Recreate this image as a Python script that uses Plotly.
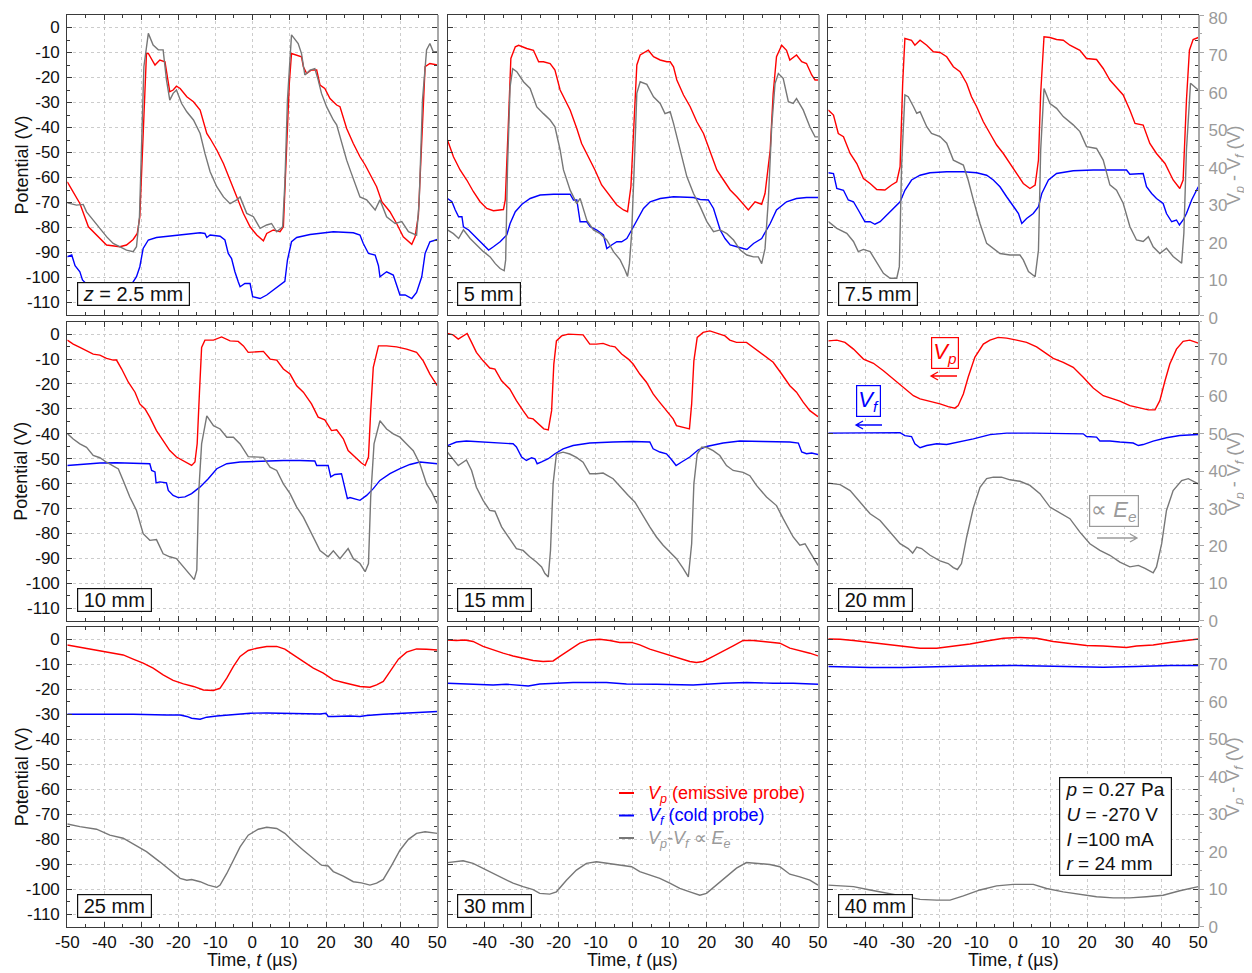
import plotly.graph_objects as go

# ---------------- data (t in µs, value) ----------------
# Vp = plasma potential (left axis, V); Vf = floating potential (left axis, V);
# dV = Vp - Vf (right axis, V)

vp_z2p5 = [(-50,-61.7),(-46.6,-70.4),(-44.3,-79.7),(-41.2,-84.4),(-39.4,-87),(-35.8,-87.7),(-34,-87),(-32.2,-84.8),(-31.1,-82.4),(-30.4,-75.7),(-29.5,-42.4),(-28.6,-10.4),(-28.1,-10.4),(-26.3,-15),(-25,-13),(-23.6,-13.7),(-22.3,-25.7),(-21.4,-25),(-20.5,-23.5),(-19.5,-24.4),(-17.7,-27.7),(-15.9,-29.7),(-14.1,-33),(-12.3,-42.4),(-11.4,-44.4),(-9.6,-49),(-7.8,-54.4),(-6,-61),(-4.2,-67.7),(-2.4,-74.4),(-0.6,-79.7),(1.2,-83),(3,-85.3),(3.9,-82.4),(5.7,-81),(7.5,-81.7),(8.4,-79.7),(9.1,-55.7),(10,-22.4),(10.6,-10.4),(12,-11),(13.3,-11.7),(13.8,-15.7),(14.7,-18.4),(16,-17),(17.4,-17),(18.3,-23),(19.6,-24.4),(21,-28.4),(22.8,-31),(23.7,-31.7),(25.5,-40.4),(27.3,-46.4),(29.1,-51.7),(30.5,-55),(31.8,-58.4),(33.6,-63.7),(35,-69.7),(37.2,-73.7),(39,-78.4),(40.8,-83.7),(43.1,-86.7),(44,-83.7),(44.9,-75),(45.8,-42.4),(46.7,-15.7),(48,-14.4),(50,-15)]
vf_z2p5 = [(-50,-91.7),(-48.8,-91),(-47.9,-95.3),(-46.6,-97.7),(-45.9,-101),(-43.9,-104),(-41.2,-108),(-37.6,-110),(-34.9,-109),(-33.1,-105),(-32.2,-101.7),(-31.3,-99.7),(-30.4,-95.7),(-29.5,-88.4),(-28.1,-85),(-25.9,-84),(-23.2,-83.5),(-18.6,-82.8),(-14.1,-82.1),(-12.8,-82.4),(-12.3,-84),(-11.4,-83),(-8.7,-83.5),(-7.4,-85),(-6.5,-90.4),(-5.6,-92.4),(-4.7,-97.7),(-3.8,-101.7),(-3.3,-103.7),(-2,-102.4),(-0.6,-102.4),(0.1,-107.7),(2.1,-108.4),(3.9,-107),(5.7,-105),(7.5,-103),(8.8,-101.5),(9.5,-93),(10.6,-85.7),(12,-84),(15.6,-82.8),(21.9,-81.7),(27.3,-82.1),(29.1,-83),(30,-86.4),(31.4,-90.4),(33.2,-91),(34.1,-95.3),(34.5,-99.7),(36.3,-97.7),(38.1,-99),(39,-103),(39.9,-107),(41.3,-107),(43.1,-108.4),(44.4,-106),(45.8,-99.7),(46.7,-90.4),(48,-85.7),(50,-84.8)]
dv_z2p5 = [(-50,29.9),(-47.5,29.3),(-45.7,29.5),(-44.8,27.5),(-43,25.3),(-41.2,23.1),(-39.4,20.9),(-37.6,19.1),(-35.8,18.2),(-34,17.3),(-32.2,16.9),(-31.3,18.2),(-30.5,26.2),(-29.9,48.4),(-29.3,66.2),(-28.1,75.1),(-26.8,72),(-25.4,70.7),(-24.1,70.7),(-23.2,62.7),(-22.3,57.3),(-21.4,59.1),(-20.5,60),(-19.1,56.4),(-17.7,54.2),(-15.9,52),(-14.1,48.4),(-12.8,43.1),(-11.4,38.2),(-9.6,34.2),(-7.8,31.5),(-6,29.7),(-4.2,30.7),(-3.3,31.5),(-1.5,27.1),(0.3,26.2),(2.1,23.1),(3.9,24),(5.2,24.4),(6.6,22.2),(8.2,23.5),(8.8,35.1),(9.5,57.3),(10.6,74.7),(12.4,72.4),(13.3,69.7),(14.2,64),(15.6,65.3),(16.9,65.7),(17.8,62.7),(18.7,59.1),(20.1,55.5),(21.9,52),(22.8,50.7),(23.7,47.5),(25.5,41.3),(26.8,37.7),(29.1,31.5),(30.9,30.7),(33.2,28),(34.5,30.7),(36.3,26.2),(38.6,24.4),(40.4,24.9),(42.2,22.2),(44.4,21.3),(45.1,30.2),(46,57.3),(47.1,70.7),(48,72.4),(48.9,70.2),(50,70.2)]

vp_z5 = [(-50,-45),(-48.4,-51.7),(-46.6,-57),(-44.8,-61),(-43,-65.7),(-41.2,-69.7),(-39.4,-72.4),(-37.6,-73.3),(-34.9,-72.8),(-34.4,-69),(-33.5,-35.7),(-32.9,-12.4),(-31.7,-7.7),(-30.8,-7.1),(-28.6,-8.4),(-26.8,-9.1),(-25.4,-13.7),(-24.1,-13.7),(-22.3,-14.4),(-21,-17),(-19.6,-25),(-18.3,-29),(-16.9,-33),(-15.1,-40.4),(-13.8,-46.4),(-12,-51.7),(-10.2,-57),(-8.4,-63),(-6.1,-67.7),(-4.3,-71),(-2.5,-73),(-1.4,-73.7),(-0.5,-63.7),(0.2,-39.7),(1.1,-15),(2,-11),(4.2,-9.1),(5.6,-11.7),(7.4,-13),(9.2,-13.7),(10.1,-13.7),(11,-15.7),(11.9,-21),(13.7,-27),(15.5,-31.7),(17.3,-37.7),(19.1,-42.4),(20.9,-49.7),(22.7,-57),(24.5,-61),(26.3,-65),(28.1,-67.7),(29.9,-71),(31.2,-73),(33,-69.7),(34.8,-70.7),(35.7,-66.4),(37.1,-49),(37.9,-26.4),(38.8,-11.7),(40.2,-7.1),(41.5,-9.1),(42.4,-13),(44.2,-11),(45.6,-13.7),(46.9,-14.4),(48.3,-19),(49.2,-21),(50,-21)]
vf_z5 = [(-50,-68.4),(-48.8,-69.7),(-47.9,-73),(-47,-75.7),(-46.1,-75.7),(-45.7,-79.7),(-44.3,-81),(-43,-83),(-41.2,-85.7),(-39.8,-87.7),(-38.9,-89),(-37.6,-87.7),(-35.8,-85.7),(-34,-83),(-33.1,-78.4),(-31.7,-73.7),(-29.9,-70.7),(-27.7,-68.4),(-25,-67),(-21.4,-66.7),(-16.9,-66.7),(-16,-69),(-15.1,-69),(-14.2,-77.7),(-12.4,-77.7),(-11.5,-79.7),(-9.7,-81),(-7.9,-83),(-7,-88.4),(-5.7,-87),(-4.3,-85.7),(-3,-85.7),(-1.6,-84.4),(-0.3,-81),(1.1,-77),(2.9,-72.4),(4.7,-69.7),(7.4,-68.4),(11,-67.7),(16.4,-68),(18.2,-68.8),(20.4,-69),(21.8,-72.4),(22.7,-77),(23.6,-81),(24.9,-84.4),(26.3,-87),(28.1,-87.7),(30.8,-88.8),(32.6,-86.4),(34.8,-84.4),(37.1,-78.4),(38.8,-73),(41.5,-69.7),(44.2,-68.4),(46.9,-68),(50,-68)]
dv_z5 = [(-50,22.7),(-48.4,21.7),(-47,20.4),(-45.7,22.7),(-43.9,20.4),(-42.1,18.7),(-40.3,16.9),(-38.5,15.5),(-37.1,13.7),(-35.8,12.4),(-34.7,11.8),(-34.3,14.7),(-33.8,39.5),(-33.1,60.9),(-32.4,65.7),(-31.3,64.9),(-29.5,62.2),(-27.7,60.4),(-25.9,55.5),(-24.1,53.7),(-22.3,52),(-21,50.2),(-19.6,44),(-18.7,38.7),(-16.9,33.3),(-15.1,29.7),(-14.2,31.1),(-12.4,25.3),(-10.6,22.7),(-8.8,21.7),(-7,20),(-5.2,16.9),(-3.4,14.7),(-2.1,12),(-1.4,10.3),(-0.9,13.7),(-0.3,21.7),(0.4,39.5),(1.1,59.1),(2,62.2),(3.8,61.5),(5.6,58.2),(7.4,56.4),(8.7,53.7),(10.1,54.2),(11,51.1),(12.8,44),(14.6,36.9),(16.4,32.4),(18.2,28.9),(20,24.9),(21.8,22.2),(23.6,22.7),(25.4,21.7),(27.2,20),(29,17.3),(30.8,16),(32.6,15.5),(33.9,15.5),(34.8,13.7),(35.7,17.7),(36.6,30.7),(37.5,50.2),(38.4,61.7),(39.3,64.4),(40.6,63.1),(42,56.9),(43.3,56.4),(44.2,57.7),(46,54.7),(47.8,50.2),(49.2,47.5),(50,47.5)]

vp_z7p5 = [(-50,-33),(-48.6,-35),(-47.3,-42.4),(-45.9,-43.7),(-44.1,-50.4),(-42.3,-54.4),(-40.5,-60.4),(-38.7,-62.4),(-36.9,-64.8),(-34.7,-65),(-32.9,-63),(-31.5,-61.7),(-30.6,-55.7),(-29.9,-22.4),(-29.3,-4.4),(-27.5,-5.1),(-26.6,-7.1),(-25.2,-5.1),(-23.4,-7.1),(-21.6,-9.7),(-19.8,-10),(-18,-11.7),(-16.2,-15.7),(-14.4,-17.7),(-12.6,-22.4),(-11.3,-27.7),(-9.9,-31.7),(-8.1,-37.7),(-6.3,-42.4),(-4.5,-47),(-2.7,-50.4),(-0.9,-54.4),(1.4,-59.7),(2.7,-62.4),(4.5,-64.4),(5.9,-63),(6.8,-53),(7.4,-26.4),(8.3,-3.7),(9.9,-4),(11.7,-4.8),(13.5,-5.1),(15.3,-7.1),(18,-9.1),(19.8,-12.4),(22.5,-12.8),(24.3,-16.4),(26.1,-21),(27.9,-24),(29.7,-27),(31.5,-33),(32.9,-38.4),(35.1,-39),(36.9,-46.4),(38.7,-50.4),(41,-54.4),(43.2,-61),(45,-64.4),(45.9,-61),(46.8,-29),(47.6,-9.1),(48.6,-4.8),(50,-4)]
vf_z7p5 = [(-50,-58.1),(-48.6,-58.4),(-47.7,-64.4),(-45.9,-65.1),(-44.6,-69),(-43.2,-69.7),(-41.9,-73),(-40.1,-77.7),(-38.7,-77.7),(-37.4,-78.7),(-36,-77.7),(-34.2,-75),(-32.4,-72.4),(-30.6,-69.7),(-29.3,-65.1),(-27.5,-61),(-25.2,-59.1),(-22.5,-58.1),(-18,-57.7),(-13.5,-57.7),(-9.9,-58.1),(-7.2,-59.1),(-5.4,-61),(-3.6,-63.7),(-1.8,-67.7),(0,-71.7),(1.4,-74.4),(2.3,-78.4),(3.6,-76.4),(5.4,-74.4),(6.8,-71.7),(7.7,-66.4),(9.5,-61),(11.7,-58.4),(16.2,-57.3),(21.6,-57),(27,-57),(30.6,-57),(31.5,-58.7),(35.1,-58.4),(36,-63.7),(37.4,-66.4),(38.7,-68.4),(40.5,-70.4),(41.4,-74.4),(42.8,-77.7),(44.1,-77),(44.9,-79),(45.9,-77),(46.8,-74.4),(48.2,-69),(50,-63.7)]
dv_z7p5 = [(-50,24.9),(-47.7,23.1),(-45,21.8),(-43.2,19.6),(-41.9,16.9),(-40.5,17.5),(-38.7,16.9),(-36.9,13.8),(-35.1,11.1),(-33.3,9.8),(-31.5,9.8),(-30.8,12.9),(-30.2,39.6),(-29.3,58.7),(-28.4,58.2),(-27,55.6),(-26.1,53.8),(-25.2,54.2),(-23.4,50.2),(-22.1,48.4),(-19.8,47.6),(-18,45.8),(-16.2,41.3),(-13.5,40),(-12.2,36),(-10.8,30.7),(-9,24.4),(-7.2,19.1),(-5.4,17.8),(-3.6,16.4),(-0.9,16),(1.8,16),(2.7,14.7),(4.1,11.6),(5.9,10.2),(6.8,17.3),(7.4,44),(8.3,60.4),(9.9,56.4),(11.7,55.1),(13.5,52.9),(16.2,50.7),(18,48.9),(19.8,44.9),(22.5,44.4),(24.3,41.3),(26.1,34.7),(27.9,33.3),(29.7,29.8),(31.5,23.6),(33.3,20),(35.1,19.6),(36.5,20.9),(37.8,18.2),(39.6,16.4),(41.4,17.8),(43.2,15.6),(45.5,13.8),(46.1,21.8),(46.8,44),(47.9,61.8),(49.1,60.9),(50,60)]

vp_z10 = [(-50,-2.4),(-48.4,-4),(-46.6,-5.3),(-44.8,-6.7),(-43,-8),(-41.2,-8.4),(-39.4,-9.7),(-37.6,-10.4),(-36.7,-10.4),(-35.3,-14),(-33.5,-19.3),(-31.7,-23.3),(-30.4,-28),(-29,-30),(-27.7,-33.3),(-25.9,-38.7),(-24.1,-42.7),(-22.3,-46.7),(-20.5,-49.3),(-18.2,-51.3),(-16.4,-52.7),(-15.5,-51.3),(-14.9,-44),(-14.3,-24),(-13.7,-5.3),(-12.8,-2.4),(-10.5,-2.4),(-8.3,-1.1),(-6,-2.7),(-3.8,-2.9),(-2.4,-4.7),(-1.1,-7.3),(3,-6.9),(4.8,-10),(6.6,-10.4),(8.4,-14),(10.2,-16),(12,-20.7),(13.8,-23.3),(16,-28),(17.8,-33.3),(19.6,-34.4),(21.4,-38.7),(22.8,-38.4),(24.6,-42),(25.9,-46.7),(27.7,-49.3),(29.5,-51.7),(30.5,-52.7),(31.4,-49.3),(32,-30.7),(32.7,-13.3),(34.1,-4.7),(36.3,-4.7),(39,-5.1),(41.7,-6),(44.4,-7.3),(46.2,-10.7),(48,-16),(50,-20.7)]
vf_z10 = [(-50,-52.7),(-45.7,-52.3),(-41.2,-51.7),(-36.7,-51.6),(-32.2,-51.7),(-28.6,-52),(-27.7,-52),(-27.2,-54.7),(-26.3,-55.3),(-26,-59.7),(-25,-59.3),(-23.2,-59.7),(-22.7,-62.7),(-21.4,-64.7),(-20,-65.6),(-18.2,-65.3),(-16.4,-64),(-14.1,-61.3),(-11.9,-58),(-9.6,-54),(-6.9,-52),(-3.3,-51.3),(2.1,-50.9),(8.4,-50.7),(12.9,-50.7),(16.9,-50.9),(17.4,-52.7),(19.6,-52.7),(20.5,-52.7),(21.2,-57.3),(22.3,-56.3),(24.1,-56),(25,-61.3),(25.7,-66),(26.4,-65.6),(27.7,-66),(29.1,-66.7),(30.9,-64.7),(32.7,-62),(34.5,-58.7),(37.2,-56),(39.9,-54),(42.6,-52.3),(45.3,-51.3),(48,-51.7),(50,-52)]
dv_z10 = [(-50,50.1),(-48.4,48.6),(-46.6,47.3),(-44.8,46.4),(-43,44.2),(-41.2,43.6),(-39.4,42.4),(-37.6,41.5),(-36.2,40.6),(-34.9,37.5),(-33.1,33.1),(-31.3,29.5),(-29.5,23.3),(-27.7,21.5),(-25.9,21.7),(-24.1,17.9),(-22.3,17.1),(-20.5,16.6),(-18.6,14.4),(-16.8,12.2),(-15.7,11),(-15,13.5),(-14.5,34),(-13.7,47.3),(-12.3,54.8),(-10.5,52.2),(-8.7,51.3),(-6.9,49.1),(-5.1,49.1),(-3.3,47.3),(-1.1,43.9),(3,43.7),(4.8,41.1),(6.6,40.2),(8.4,36.6),(10.2,34),(12,30.4),(13.8,27.7),(16,23.3),(18.3,18.8),(20.5,17.1),(21.9,18.7),(23.7,16.6),(25.9,19.3),(27.3,16.6),(29.1,15.3),(30.5,13.1),(31.4,15.3),(32,33.1),(32.9,47.3),(34.5,53.5),(36.3,51.3),(38.1,50),(39.9,49.1),(41.7,47.3),(43.5,45.5),(45.3,42),(47.1,36.6),(48.5,34.4),(50,31.3)]

vp_z15 = [(-50,0.3),(-48.5,-0.3),(-47.1,-2),(-45.8,-0.7),(-44.7,0.3),(-43.5,-3.3),(-42.2,-7.3),(-40.4,-10.7),(-38.6,-13.6),(-37.2,-14),(-35.4,-18.7),(-33.2,-22),(-31.4,-26.7),(-29.6,-30.7),(-28.2,-33.6),(-26.9,-34),(-25.5,-36),(-24,-38),(-22.8,-38.4),(-21.9,-30.7),(-21.3,-12),(-20.6,-2.7),(-19.2,-0.7),(-17.4,0),(-13.4,-0.3),(-11.6,-4),(-9.8,-4),(-8,-3.7),(-6.2,-4.7),(-4.8,-5.1),(-3,-8),(-1.2,-10),(0.1,-12),(1.9,-16),(3.7,-19.3),(5.5,-24),(6.9,-26.7),(9.1,-30.7),(10.9,-34),(11.8,-36.7),(13.6,-37.3),(15.3,-38),(15.9,-28),(16.5,-10.7),(17.4,-1.3),(19,0.7),(20.8,1.3),(22.6,0.3),(24.9,-0.7),(26.2,-2.4),(28,-3.3),(30.7,-3.3),(32.5,-5.3),(35.2,-8),(37.9,-11.3),(40.2,-16),(42.4,-20.7),(44.2,-23.3),(46,-27.3),(47.8,-30.7),(50,-33.1)]
vf_z15 = [(-50,-44.7),(-47.6,-43.3),(-44.9,-42.9),(-40.4,-43.3),(-35.9,-43.7),(-32.3,-44),(-31.4,-45.3),(-30,-49.3),(-28.7,-50.7),(-27.3,-49.6),(-26.4,-50),(-25.8,-52),(-24.6,-51.3),(-22.8,-50),(-21,-48),(-18.8,-46),(-16.1,-44.7),(-11.6,-43.7),(-5.3,-43.3),(0.1,-43.1),(4.6,-43.3),(5.5,-46),(7.3,-47.3),(9.1,-48),(10.5,-50.4),(11.7,-52.7),(13.2,-51.3),(15.4,-49.3),(17.7,-46.4),(19.9,-45.1),(24.4,-43.7),(28.9,-42.9),(35.2,-43.1),(42.4,-43.3),(44.7,-43.7),(45.6,-47.3),(46.9,-48),(48.3,-47.7),(50,-48.3)]
dv_z15 = [(-50,45.1),(-48.5,43.3),(-47.1,41.5),(-44.9,43),(-43.5,40.2),(-42.2,35.7),(-40.4,32.2),(-38.6,29.5),(-37.2,29.3),(-35.4,25.1),(-33.2,22),(-31.4,19.3),(-29.6,18.8),(-27.8,17.1),(-26,15.7),(-24.6,14.4),(-23.7,12.6),(-22.8,11.7),(-22.2,18.8),(-21.5,36.6),(-20.6,44.6),(-18.8,45.1),(-17,44.6),(-15.2,43.7),(-13.4,42.4),(-11.6,39.3),(-9.8,39.3),(-8,39.5),(-5.3,38),(-3,35.3),(-1.2,33.5),(0.6,31.7),(2.4,28.6),(4.6,25.1),(6.4,22.4),(8.2,20.2),(10,18.4),(11.8,16.6),(13.6,14),(15,11.7),(15.9,20.6),(16.5,36.6),(17.4,44.6),(18.6,46.4),(19.9,46.4),(21.7,45.5),(23.5,44.2),(25.3,41.5),(27.1,40.2),(29.8,39.7),(31.6,38.8),(33.4,36.2),(36.1,33.1),(38.8,30.8),(40.6,27.3),(43.3,22.4),(45.1,20.2),(46.5,20.6),(47.8,18.4),(50,14.8)]

vp_z20 = [(-50,-2.7),(-47.7,-2.4),(-45.5,-3.3),(-43.2,-6),(-40.5,-10),(-37.8,-11.7),(-35.1,-14.7),(-32.4,-18),(-29.7,-21.1),(-27,-24.7),(-25.2,-26),(-22.5,-26.9),(-19.8,-28),(-17.6,-29.1),(-15.8,-29.7),(-14.9,-28.7),(-13.5,-24),(-12.2,-17.3),(-10.4,-9.3),(-8.1,-4),(-6.3,-2.4),(-4.1,-1.3),(-1.8,-1.6),(0.9,-2.4),(3.6,-3.3),(6.3,-5.1),(9,-8),(10.8,-9.7),(13.5,-11.3),(16.2,-13.3),(18.9,-17.3),(21.6,-21.6),(24.3,-24.7),(26.6,-25.7),(28.8,-26.9),(31.5,-28.7),(34.2,-29.6),(36.5,-30.4),(38.3,-30.4),(39.6,-26.7),(41,-18.7),(42.3,-12),(44.1,-6),(45.9,-2.9),(47.7,-2.4),(50,-3.6)]
vf_z20 = [(-50,-39.7),(-43.2,-39.6),(-34.2,-39.6),(-30.6,-39.5),(-29.3,-40.7),(-27.5,-41.1),(-26.6,-44),(-25.2,-45.6),(-23.4,-44.7),(-20.7,-44),(-18,-44.3),(-14.4,-43.3),(-10.8,-42),(-6.3,-40.3),(-1.8,-39.7),(5.4,-39.7),(10.8,-39.7),(18.9,-40),(19.8,-41.1),(22.5,-41.3),(23.4,-42.9),(26.1,-42.9),(28.8,-43.3),(32.4,-43.7),(33.8,-44.7),(35.1,-44.3),(37.8,-42.9),(41.4,-41.6),(45,-40.7),(50,-40.3)]
dv_z20 = [(-50,36.8),(-46.8,36.4),(-44.1,34.8),(-41.4,31.7),(-38.7,28.6),(-36,26.8),(-33.3,23.7),(-30.6,20.6),(-28.4,19.3),(-27.2,18.1),(-26.1,19.7),(-24.8,19.3),(-22.5,17.5),(-19.8,16),(-17.6,15.3),(-16.2,14.2),(-15.1,13.7),(-14,15.3),(-12.6,22.4),(-10.8,30.2),(-9,35.7),(-7.2,38),(-5.4,38.4),(-3.2,38.4),(-0.9,37.7),(1.8,37.3),(4.5,36.2),(7.2,34),(9.9,30.4),(12.6,28.8),(15.3,27.3),(18,23.7),(20.7,20.6),(23.4,18.8),(26.1,17.5),(28.8,15.7),(31.5,14.4),(33.8,14.8),(35.6,14),(37.8,12.8),(38.7,14.4),(40.1,20.6),(41.4,29.5),(43.2,34.8),(45.5,37.5),(47.3,38),(48.6,37.3),(50,36.6)]

vp_z25 = [(-50,-2.3),(-46.6,-3.2),(-43,-4),(-40.3,-4.9),(-37.6,-5.6),(-34.9,-6.3),(-32.2,-8),(-29.5,-9.6),(-26.8,-11.6),(-24.1,-14.3),(-21.4,-16.5),(-18.6,-17.9),(-15.9,-18.9),(-13.2,-20.3),(-10.5,-20.5),(-8.7,-19.6),(-6.9,-15.6),(-5.1,-10.9),(-3.3,-6.9),(-1.1,-4.5),(1.2,-3.6),(3.9,-2.9),(6.6,-2.9),(8.8,-4),(11.1,-6.3),(13.8,-8.9),(16.5,-11.6),(19.2,-13.6),(21.9,-16.3),(24.6,-17.3),(27.3,-18.3),(29.1,-18.9),(31.8,-19.2),(33.6,-18.3),(35.4,-16.9),(37.2,-12.9),(39.5,-8),(41.7,-5.2),(44.4,-3.9),(47.1,-4),(50,-4.3)]
vf_z25 = [(-50,-30),(-41.2,-29.9),(-32.2,-30),(-23.2,-30.3),(-19.5,-30.3),(-17.7,-30.9),(-16.4,-31.6),(-14.1,-32),(-12.3,-31.2),(-9.6,-30.7),(-5.1,-30),(-0.6,-29.6),(3.9,-29.5),(12.9,-29.6),(18.3,-29.9),(19.9,-29.6),(20.5,-30.9),(21.9,-30.9),(26.4,-30.7),(29.1,-30.9),(30.9,-30.5),(35.4,-30),(39.9,-29.6),(44.4,-29.3),(50,-28.9)]
dv_z25 = [(-50,27.4),(-46.6,26.7),(-42.1,26),(-38.5,24.4),(-34.9,23.6),(-32.2,22),(-28.6,20),(-25,17.3),(-22.3,15.1),(-19.5,12.9),(-17.7,12.4),(-16.4,12.6),(-14.1,12),(-11.9,11.1),(-9.6,10.5),(-8.7,11.1),(-6.9,14.2),(-5.1,17.8),(-3.3,21.3),(-1.1,24.4),(1.6,26),(3.9,26.5),(6.6,26.2),(8.8,24.9),(11.1,22.7),(13.8,20.4),(16.5,18.2),(18.7,16.4),(20.5,16.2),(21.9,14.7),(24.6,13.5),(27.3,12),(29.5,11.7),(31.8,11.1),(33.6,11.6),(35.4,12.6),(37.7,16.4),(39.9,20.4),(42.2,23.3),(44.4,24.9),(46.7,25.3),(50,24.9)]

vp_z30 = [(-50,-0.3),(-47.6,-0.5),(-45.3,-0.3),(-43.1,-0.9),(-40.4,-2.9),(-37.7,-4.3),(-35,-5.6),(-32.3,-6.7),(-29.6,-7.6),(-26.9,-8.5),(-24.2,-8.9),(-21.5,-8.7),(-19.7,-6.9),(-17,-4.3),(-14.3,-1.6),(-11.6,-0.3),(-8.9,0),(-6.2,-0.5),(-3.5,-1.3),(-0.3,-1.3),(1.9,-2.3),(4.6,-4),(7.3,-5.3),(10,-6.3),(12.7,-7.6),(15.4,-8.9),(17.2,-9.3),(19,-8.9),(21.7,-6.9),(24.4,-4.9),(27.1,-2.7),(29.8,-0.5),(32.5,-0.5),(35.2,-0.9),(37.9,-1.3),(39.7,-1.6),(42.4,-3.6),(45.1,-4.5),(47.8,-5.6),(50,-6.7)]
vf_z30 = [(-50,-17.6),(-43.1,-17.9),(-37.7,-18.3),(-34.1,-18),(-28.2,-18.7),(-25.1,-17.9),(-16.1,-17.3),(-7.1,-17.3),(-1.7,-17.9),(6.4,-18),(16.3,-18.3),(24.4,-17.6),(30.7,-17.3),(37.9,-17.6),(43.3,-17.6),(50,-18)]
dv_z30 = [(-50,17.1),(-45.8,17.6),(-43.1,16.9),(-40.4,15.6),(-37.7,14.2),(-35,12.9),(-32.3,11.6),(-29.6,10.7),(-26.9,9.9),(-25.1,8.9),(-22.4,8.7),(-20.6,9.3),(-17.9,12.4),(-15.2,15.1),(-12.5,16.9),(-9.8,17.3),(-7.1,16.9),(-3.5,16.4),(-0.3,16),(1.9,14.7),(4.6,13.8),(7.3,12.9),(10,11.6),(12.7,10.2),(15.4,9.3),(18.1,8.4),(19.9,8.9),(22.6,11.1),(25.3,13.3),(28,15.6),(30.7,17.1),(33.4,16.9),(37,16.6),(39.7,16),(42.4,14),(45.1,13.3),(47.8,12.4),(50,11.1)]

vp_z40 = [(-50,0.1),(-46.8,0),(-43.2,-0.5),(-38.7,-1.3),(-34.2,-2.3),(-29.7,-2.9),(-25.2,-3.6),(-20.7,-3.6),(-16.2,-2.9),(-11.7,-1.9),(-7.2,-0.7),(-2.7,0.4),(1.8,0.7),(6.3,0.4),(10.8,-0.9),(15.3,-1.6),(19.8,-2.5),(24.3,-2.7),(28.8,-3.3),(30.6,-3.3),(33.3,-2.7),(37.8,-2.3),(42.3,-1.3),(46.8,-0.5),(50,0.1)]
vf_z40 = [(-50,-10.9),(-43.2,-11.3),(-38.7,-11.3),(-29.7,-11.3),(-20.7,-10.9),(-11.7,-10.7),(0,-10.5),(10.8,-10.9),(24.3,-11.2),(33.3,-10.9),(42.3,-10.5),(50,-10.5)]
dv_z40 = [(-50,11.1),(-43.2,10.7),(-38.7,9.8),(-34.2,8.9),(-29.7,8),(-25.2,7.3),(-20.7,7.1),(-17.1,7.1),(-13.5,8.2),(-9,9.8),(-4.5,10.9),(0,11.3),(5.4,11.3),(9,10.2),(13.5,9.3),(18,8.6),(22.5,8),(27,7.7),(31.5,7.7),(36,8),(40.5,8.4),(45,9.6),(50,10.7)]

panel_labels = ["<i>z</i> = 2.5 mm", "5 mm", "7.5 mm", "10 mm", "15 mm", "20 mm", "25 mm", "30 mm", "40 mm"]
series_vp = [vp_z2p5, vp_z5, vp_z7p5, vp_z10, vp_z15, vp_z20, vp_z25, vp_z30, vp_z40]
series_vf = [vf_z2p5, vf_z5, vf_z7p5, vf_z10, vf_z15, vf_z20, vf_z25, vf_z30, vf_z40]
series_dv = [dv_z2p5, dv_z5, dv_z7p5, dv_z10, dv_z15, dv_z20, dv_z25, dv_z30, dv_z40]

x_ticks_first = [-50, -40, -30, -20, -10, 0, 10, 20, 30, 40, 50]
x_ticks_other = [-40, -30, -20, -10, 0, 10, 20, 30, 40, 50]
left_ticks = [0, -10, -20, -30, -40, -50, -60, -70, -80, -90, -100, -110]
right_ticks_top = [0, 10, 20, 30, 40, 50, 60, 70, 80]
right_ticks_low = [0, 10, 20, 30, 40, 50, 60, 70]

# ---------------- styling ----------------
# the page body adds an 8 px margin, so the figure is 8 px smaller and all
# reference pixel positions are shifted by that offset
OFF = 8
W, H = 1252 - OFF, 973 - OFF
FONT = "Liberation Sans, Arial, sans-serif"
RED, BLUE, GRAY = "#ff0000", "#0000ff", "#777777"
GRAY_TXT = "#9a9a9a"
FRAME = "#3a3a3a"
GRID = "#cccccc"
NB = "\u00a0"
COLS = [(67.3, 437.3), (447.5, 818.0), (828.3, 1198.3)]
ROWS = [(15.0, 315.0), (321.7, 620.7), (626.7, 926.7)]

def px(x):
    return (x - OFF) / W

def py(y):
    return 1 - (y - OFF) / H

fig = go.Figure()
layout = dict(
    width=W, height=H, margin=dict(l=0, r=0, t=0, b=0, pad=0, autoexpand=False),
    paper_bgcolor="white", plot_bgcolor="white", showlegend=False,
    font=dict(family=FONT, size=17, color="#111111"),
)

def xs(p):
    return [a for a, b in p]

def ys(p):
    return [b for a, b in p]

annotations = []
shapes = []
for i in range(9):
    r, c = divmod(i, 3)
    xi, yl, yr = i + 1, 2 * i + 1, 2 * i + 2
    xn = "x" if xi == 1 else f"x{xi}"
    yln = "y" if yl == 1 else f"y{yl}"
    yrn = f"y{yr}"
    xk = "xaxis" if xi == 1 else f"xaxis{xi}"
    ylk = "yaxis" if yl == 1 else f"yaxis{yl}"
    yrk = f"yaxis{yr}"
    x0, x1 = COLS[c]
    top, bot = ROWS[r]
    xdom = [px(x0), px(x1)]
    ydom = [py(bot), py(top)]

    xt = x_ticks_first if c == 0 else x_ticks_other
    layout[xk] = dict(
        domain=xdom, anchor=yln, range=[-50, 50], tickmode="array",
        tickvals=xt, ticktext=[str(v) for v in xt], automargin=False,
        showticklabels=(r == 2), ticks="inside", ticklen=5, tickwidth=1, tickcolor=FRAME,
        showline=True, linecolor=FRAME, linewidth=1.2, mirror="ticks",
        showgrid=True, gridcolor=GRID, griddash="dot", gridwidth=1, zeroline=False,
        minor=dict(tickmode="linear", tick0=0, dtick=5, ticks="inside", ticklen=3, tickcolor=FRAME, showgrid=False),
        tickfont=dict(size=17, family=FONT, color="#111111"), ticklabelstandoff=0,
        ticklabeloverflow="allow",
    )

    layout[ylk] = dict(
        domain=ydom, anchor=xn, range=[-115, 5], tickmode="array", automargin=False,
        tickvals=left_ticks, ticktext=[str(v) for v in left_ticks],
        showticklabels=(c == 0), ticks="inside", ticklen=5, tickwidth=1, tickcolor=FRAME,
        showline=True, linecolor=FRAME, linewidth=1.2, mirror="ticks",
        showgrid=True, gridcolor=GRID, griddash="dot", gridwidth=1, zeroline=False,
        minor=dict(tickmode="linear", tick0=0, dtick=5, ticks="inside", ticklen=3, tickcolor=FRAME, showgrid=False),
        tickfont=dict(size=17, family=FONT, color="#111111"), ticklabelstandoff=3,
        ticklabeloverflow="allow",
    )

    ry = dict(
        domain=ydom, anchor=xn, overlaying=yln, side="right", range=[0, 80], automargin=False,
        showgrid=False, zeroline=False, showline=True, linecolor="#a8a8a8", linewidth=1.6,
    )
    if c == 2:
        rt = right_ticks_top if r == 0 else right_ticks_low
        ry.update(
            tickmode="array", tickvals=rt, ticktext=[str(v) for v in rt],
            ticks="outside", ticklen=4, tickcolor="#a8a8a8", showticklabels=True,
            minor=dict(tickmode="linear", tick0=0, dtick=5, ticks="outside", ticklen=2, tickcolor="#a8a8a8"),
            tickfont=dict(size=17, family=FONT, color=GRAY_TXT), ticklabelstandoff=1,
            ticklabeloverflow="allow", ticklabelshift=(3 if r == 0 else 0),
        )
    else:
        ry.update(showticklabels=False, ticks="")
    layout[yrk] = ry

    fig.add_trace(go.Scatter(x=xs(series_vf[i]), y=ys(series_vf[i]), xaxis=xn, yaxis=yln, mode="lines",
                             line=dict(color=BLUE, width=1.4), name="Vf", hoverinfo="skip"))
    fig.add_trace(go.Scatter(x=xs(series_vp[i]), y=ys(series_vp[i]), xaxis=xn, yaxis=yln, mode="lines",
                             line=dict(color=RED, width=1.4), name="Vp", hoverinfo="skip"))
    fig.add_trace(go.Scatter(x=xs(series_dv[i]), y=ys(series_dv[i]), xaxis=xn, yaxis=yrn, mode="lines",
                             line=dict(color=GRAY, width=1.4), name="Vp-Vf", hoverinfo="skip"))

    annotations.append(dict(
        text=NB + panel_labels[i] + NB, xref=f"{xn} domain", yref=f"{yln} domain",
        x=9.5 / 370, y=9 / 300, xanchor="left", yanchor="bottom", showarrow=False,
        font=dict(size=20, family=FONT, color="#111111"), bgcolor="white",
        bordercolor="#111111", borderwidth=1.2, borderpad=0,
    ))

    # axis titles placed as text at fixed pixel positions
    ymid = (top + bot) / 2
    if c == 0:
        annotations.append(dict(text="Potential (V)", xref="paper", yref="paper", x=px(21.5), y=py(ymid),
                                textangle=-90, xanchor="center", yanchor="middle", showarrow=False,
                                font=dict(size=18, family=FONT, color="#111111")))
    if c == 2:
        annotations.append(dict(text="V<sub><i>p</i></sub> - V<sub><i>f</i></sub> (V)", xref="paper", yref="paper",
                                x=px(1235), y=py(ymid), textangle=-90, xanchor="center", yanchor="middle",
                                showarrow=False, font=dict(size=18, family=FONT, color=GRAY_TXT)))
    if r == 2:
        annotations.append(dict(text="Time, <i>t</i> (µs)", xref="paper", yref="paper", x=px((x0 + x1) / 2),
                                y=py(960), xanchor="center", yanchor="middle", showarrow=False,
                                font=dict(size=18, family=FONT, color="#111111")))

# legend (row 3, col 2)
legend_items = [
    ("<i>V<sub>p</sub></i> (emissive probe)", RED, RED, 793),
    ("<i>V<sub>f</sub></i> (cold probe)", BLUE, BLUE, 815.5),
    ("<i>V<sub>p</sub></i>-<i>V<sub>f</sub></i> ∝ <i>E<sub>e</sub></i>", GRAY, GRAY_TXT, 838),
]
for text, lc, tc, yc in legend_items:
    shapes.append(dict(type="line", xref="paper", yref="paper", x0=px(619), x1=px(634), y0=py(yc), y1=py(yc),
                       line=dict(color=lc, width=2)))
    annotations.append(dict(text=text, xref="paper", yref="paper", x=px(646), y=py(yc + 1), xanchor="left",
                            yanchor="middle", showarrow=False, font=dict(size=18, family=FONT, color=tc)))

# parameter box (row 3, col 3)
annotations.append(dict(
    text="<br>".join(NB + s + NB for s in ["<i>p</i> = 0.27 Pa", "<i>U</i> = -270 V", "<i>I</i> =100 mA", "<i>r</i> = 24 mm"]),
    xref="paper", yref="paper", x=px(1059), y=py(777), xanchor="left", yanchor="top", align="left",
    showarrow=False, font=dict(size=19, family=FONT, color="#111111"), bgcolor="white",
    bordercolor="#111111", borderwidth=1.2, borderpad=1,
))

# marker labels in 20 mm panel
for text, col, cx, cy in [("<i>V<sub>p</sub></i>", RED, 944.5, 353), ("<i>V<sub>f</sub></i>", BLUE, 868, 400.5),
                          ("∝ <i>E<sub>e</sub></i>", GRAY_TXT, 1113.5, 510.7)]:
    annotations.append(dict(text=text, xref="paper", yref="paper", x=px(cx), y=py(cy), xanchor="center",
                            yanchor="middle", showarrow=False, font=dict(size=22, family=FONT, color=col),
                            bgcolor="white", bordercolor=col, borderwidth=1.2, borderpad=1))

def arrow(x_tail, x_head, y, color):
    d = 7 if x_head < x_tail else -7
    path = (f"M{px(x_tail)},{py(y)} L{px(x_head)},{py(y)} "
            f"M{px(x_head + d)},{py(y - 4)} L{px(x_head)},{py(y)} L{px(x_head + d)},{py(y + 4)}")
    return dict(type="path", xref="paper", yref="paper", path=path, line=dict(color=color, width=1.3))

shapes += [arrow(957, 931, 376, RED), arrow(882, 856, 425, BLUE), arrow(1097, 1137, 538, GRAY_TXT)]

layout["annotations"] = annotations
layout["shapes"] = shapes
fig.update_layout(**layout)
fig.write_html("out.html")
